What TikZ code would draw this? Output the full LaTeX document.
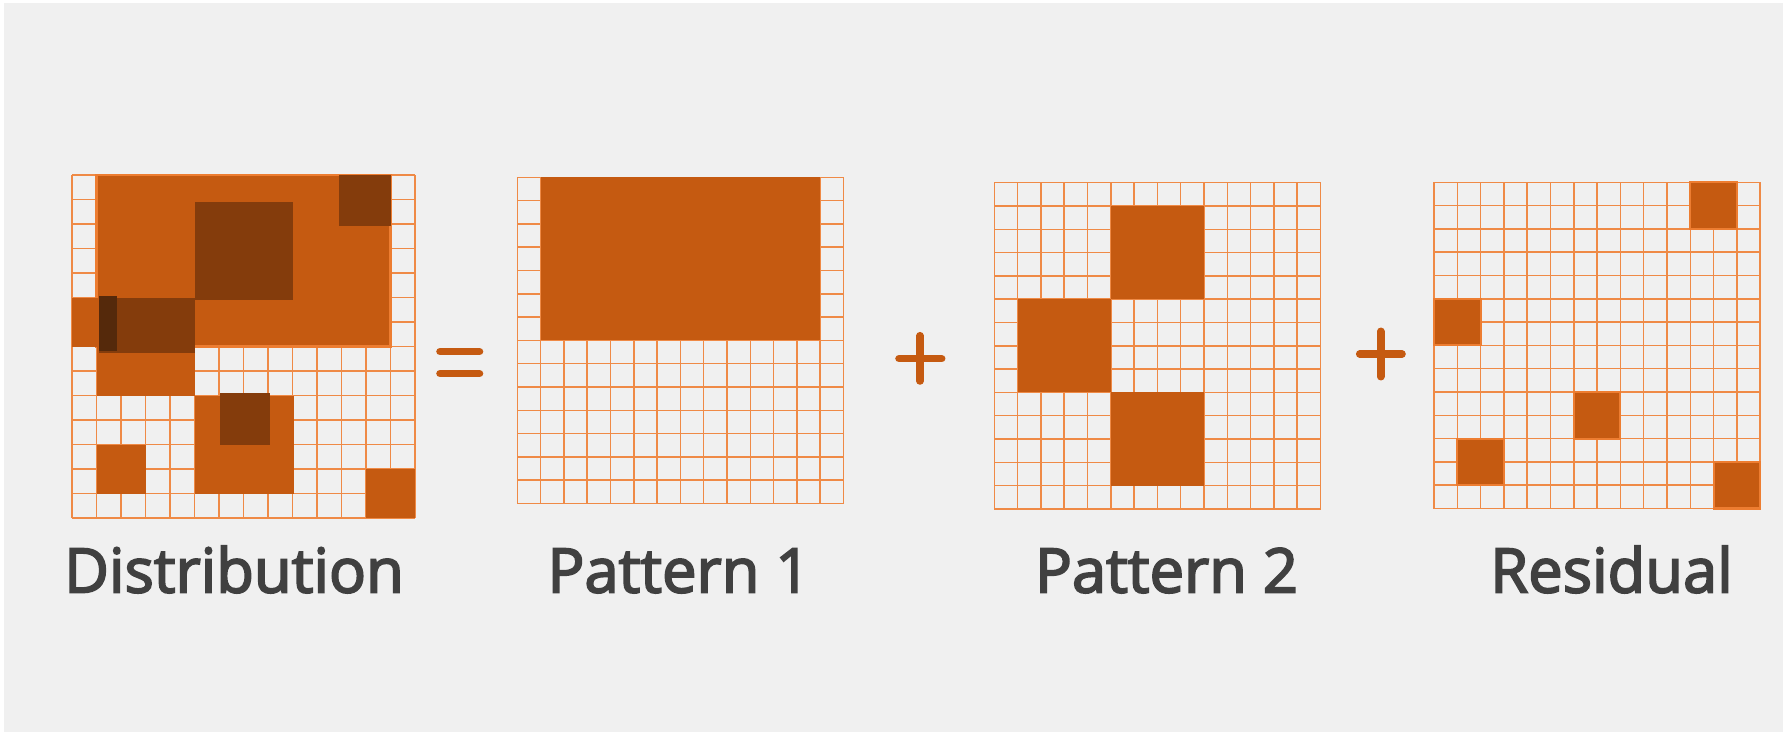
\documentclass[tikz,border=0pt]{standalone}
\usepackage{fontspec}
\newfontfamily\labelfont[FakeBold=3]{Open Sans}
\usetikzlibrary{positioning}

\definecolor{bggray}{HTML}{F0F0F0}
\definecolor{gridorange}{HTML}{ED7D31}
\definecolor{fillorange}{HTML}{C55A11}
\definecolor{filldark}{HTML}{843C0C}
\definecolor{filldarkest}{HTML}{55290B}
\definecolor{labelgray}{HTML}{404040}

\begin{document}
\begin{tikzpicture}[x=0.02cm, y=-0.02cm,
  gridline/.style={draw=gridorange!90!white, line width=0.85pt},
  cell/.style={fill=fillorange},
  overlap/.style={fill=filldark},
  edged/.style={fill=fillorange, draw=gridorange, line width=1.2pt},
  sign/.style={draw=fillorange, line width=4.3pt, line cap=round},
  label/.style={font=\labelfont\fontsize{35}{40}\selectfont, text=labelgray, anchor=base}]

\useasboundingbox (0,0) rectangle (1787,735);
\fill[white] (0,0) rectangle (1787,735);
\fill[bggray] (4,3) rectangle (1783,732);

% the four 14x14 grids
\foreach \ox/\oy/\c in {72/175/24.5, 517.3/177.3/23.3, 994.3/182.7/23.3, 1434/182.3/23.3} {
  \begin{scope}[shift={(\ox,\oy)}, scale=\c]
    \foreach \k in {0,...,14} {
      \draw[gridline] (\k,0) -- (\k,14);
      \draw[gridline] (0,\k) -- (14,\k);
    }
  \end{scope}
}

% distribution
\begin{scope}[shift={(72,175)}, scale=24.5]
  \filldraw[edged] (1,0) rectangle (13,7);
  \fill[cell] (0,5) rectangle (2,7);
  \fill[cell] (1,5) rectangle (5,9);
  \fill[overlap] (1.1,5) rectangle (5,7.25);
  \fill[filldarkest] (1.1,4.95) rectangle (1.85,7.2);
  \fill[overlap] (5,1.1) rectangle (9,5.1);
  \fill[overlap] (10.9,0) rectangle (13,2.1);
  \fill[cell] (5,9) rectangle (9.05,13);
  \fill[overlap] (6.05,8.9) rectangle (8.1,11);
  \fill[cell] (1,11) rectangle (3,13);
  \fill[cell] (12,12) rectangle (14,14);
\end{scope}

% pattern 1
\begin{scope}[shift={(517.3,177.3)}, scale=23.3]
  \fill[cell] (1,0) rectangle (13,7);
\end{scope}

% pattern 2
\begin{scope}[shift={(994.3,182.7)}, scale=23.3]
  \fill[cell] (5,1) rectangle (9,5);
  \fill[cell] (1,5) rectangle (5,9);
  \fill[cell] (5,9) rectangle (9,13);
\end{scope}

% residual
\begin{scope}[shift={(1434,182.3)}, scale=23.3]
  \filldraw[edged] (11,0) rectangle (13,2);
  \filldraw[edged] (0,5) rectangle (2,7);
  \filldraw[edged] (6,9) rectangle (8,11);
  \filldraw[edged] (1,11) rectangle (3,13);
  \filldraw[edged] (12,12) rectangle (14,14);
\end{scope}

% = and + signs
\draw[sign] (440,351.7) -- (479.5,351.7);
\draw[sign] (440,373.7) -- (479.5,373.7);
\draw[sign] (899,358.7) -- (941.7,358.7);
\draw[sign] (920,335.7) -- (920,381);
\draw[sign] (1359.7,354) -- (1402,354);
\draw[sign] (1380.7,331.3) -- (1380.7,376.7);

\node[label] (distlabel) at (234,592.5) {Distribution};
\node[label] (pat1label) at (679,592.5) {Pattern 1};
\node[label] (pat2label) at (1166.5,592.5) {Pattern 2};
\node[label] (reslabel) at (1611.5,592.5) {Residual};
\end{tikzpicture}
\end{document}
